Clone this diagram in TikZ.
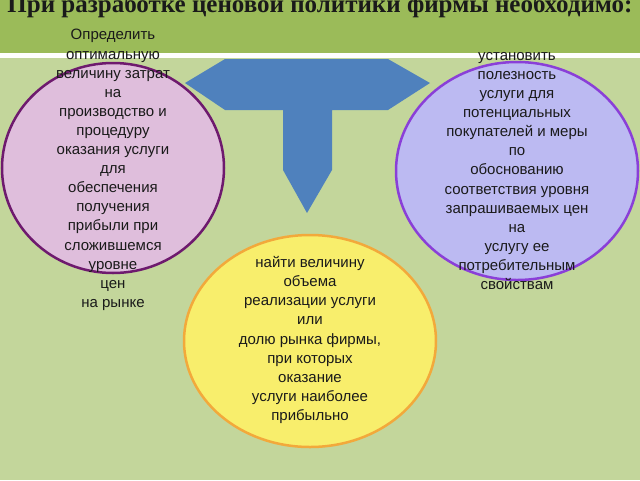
\documentclass[tikz,border=0pt]{standalone}
\usepackage{fontspec}
\setmainfont{Liberation Sans}
\newfontfamily\titlefont{Liberation Serif}
\usetikzlibrary{shapes.geometric}
\definecolor{bandgreen}{HTML}{9BBB59}
\definecolor{bodygreen}{HTML}{C3D69B}
\definecolor{arrowblue}{HTML}{4F81BD}
\definecolor{pinkfill}{HTML}{DFBEDC}
\definecolor{pinkline}{HTML}{6E1A6E}
\definecolor{lavfill}{HTML}{BCBAF2}
\definecolor{lavline}{HTML}{8A3FD8}
\definecolor{yelfill}{HTML}{F8EE6C}
\definecolor{yelline}{HTML}{F2A93B}
\definecolor{txt}{HTML}{1A1A1A}
\tikzset{
  bubble/.style={ellipse, inner sep=0pt, line width=2.5pt},
  bubbletext/.style={align=center, text=txt, inner sep=0pt,
    font=\fontsize{15}{19.1}\selectfont},
}
\begin{document}
\begin{tikzpicture}[x=1pt,y=-1pt]
\useasboundingbox (0,0) rectangle (640,480);
% background
\fill[bodygreen] (0,0) rectangle (640,480);
\fill[bandgreen] (0,0) rectangle (640,53);
\fill[white] (0,53) rectangle (640,58);
% title
\node[anchor=base, text=txt, inner sep=0pt, font=\titlefont\bfseries\fontsize{25}{28}\selectfont] (title) at (320,12) {При разработке ценовой политики фирмы необходимо:};
% blue T shape
\fill[arrowblue] (185,83) -- (225,59) -- (388,59) -- (430,83) -- (388,110) -- (332,110) -- (332,170) -- (307,213) -- (283,170) -- (283,110) -- (225,110) -- cycle;
% bubbles
\node[bubble, draw=pinkline, fill=pinkfill, minimum width=222pt, minimum height=210pt] (pink) at (113,168) {};
\node[bubble, draw=lavline, fill=lavfill, minimum width=242pt, minimum height=218pt] (lav) at (517,171) {};
\node[bubble, draw=yelline, fill=yelfill, minimum width=252pt, minimum height=212pt] (yel) at (310,341) {};
% texts
\node[bubbletext] (pinktext) at (113,170) {Определить\\оптимальную\\величину затрат\\на\\производство и\\процедуру\\оказания услуги\\для\\обеспечения\\получения\\прибыли при\\сложившемся\\уровне\\цен\\на рынке};
\node[bubbletext] (lavtext) at (517,171) {установить\\полезность\\услуги для\\потенциальных\\покупателей и меры\\по\\обоснованию\\соответствия уровня\\запрашиваемых цен\\на\\услугу ее\\потребительным\\свойствам};
\node[bubbletext] (yeltext) at (310,340) {найти величину\\объема\\реализации услуги\\или\\долю рынка фирмы,\\при которых\\оказание\\услуги наиболее\\прибыльно};
\end{tikzpicture}
\end{document}
